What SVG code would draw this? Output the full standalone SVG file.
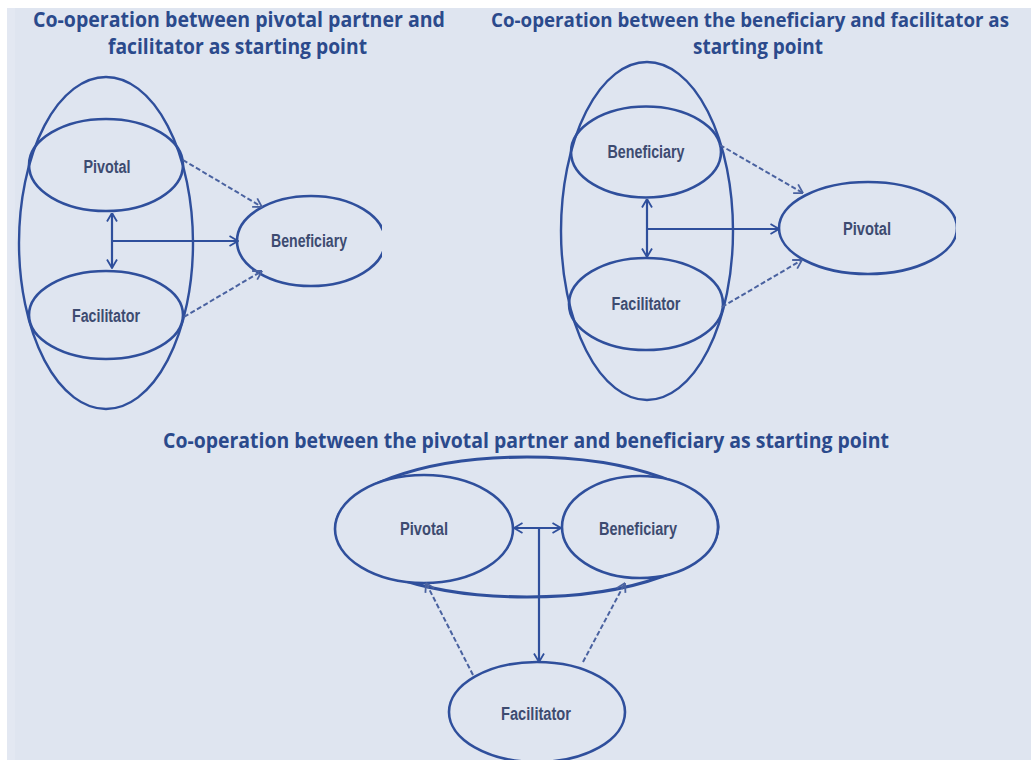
<svg xmlns="http://www.w3.org/2000/svg" width="1031" height="760" viewBox="0 0 1031 760">
  <defs>
    <style>
      .bg { fill: #dfe5f0; }
      .node { fill: none; stroke: #2f4f9c; stroke-width: 2.6; }
      .filled { fill: #dfe5f0; }
      .outer { fill: none; stroke: #2f4f9c; stroke-width: 2.4; }
      .title { font-family: "Open Sans", "Noto Sans", sans-serif; font-weight: 700; font-size: 21px; fill: #2b4a8c; text-anchor: middle; }
      .label { font-family: "Liberation Sans", Arial, sans-serif; font-weight: 700; font-size: 18px; fill: #3d4b70; text-anchor: middle; }
      .solid { fill: none; stroke: #2f4f9c; stroke-width: 2.2; }
      .dash { fill: none; stroke: #4a62a0; stroke-width: 2; stroke-dasharray: 5 2.5; }
    </style>
    <marker id="arr" viewBox="0 0 10 12" refX="9.5" refY="6" markerWidth="10" markerHeight="12" markerUnits="userSpaceOnUse" orient="auto-start-reverse">
      <path d="M1,1 L9.5,6 L1,11" fill="none" stroke="#2f4f9c" stroke-width="1.8"/>
    </marker>
    <marker id="arrd" viewBox="0 0 10 12" refX="9.5" refY="6" markerWidth="10" markerHeight="12" markerUnits="userSpaceOnUse" orient="auto">
      <path d="M1,1 L9.5,6 L1,11" fill="none" stroke="#4a62a0" stroke-width="1.8"/>
    </marker>
    <clipPath id="clip1"><rect x="0" y="0" width="382" height="760"/></clipPath>
    <clipPath id="clip2"><rect x="0" y="0" width="956" height="760"/></clipPath>
  </defs>

  <rect x="0" y="0" width="1031" height="760" fill="#ffffff"/>
  <rect class="bg" x="7" y="8" width="1024" height="752"/>
  <rect x="7" y="8" width="8" height="752" fill="#e3e8f2"/>

  <!-- Titles -->
  <g id="titles">
    <text class="title" x="239" y="27" textLength="412" lengthAdjust="spacingAndGlyphs">Co-operation between pivotal partner and</text>
    <text class="title" x="237.5" y="54" textLength="259" lengthAdjust="spacingAndGlyphs">facilitator as starting point</text>
    <text class="title" x="750" y="27" style="font-size:19px" textLength="518" lengthAdjust="spacingAndGlyphs">Co-operation between the beneficiary and facilitator as</text>
    <text class="title" x="758" y="54" textLength="130" lengthAdjust="spacingAndGlyphs">starting point</text>
    <text class="title" x="526" y="448" textLength="726" lengthAdjust="spacingAndGlyphs">Co-operation between the pivotal partner and beneficiary as starting point</text>
  </g>

  <!-- Panel 1 -->
  <g id="p1-group"><ellipse class="outer" cx="106" cy="243" rx="87" ry="166"/></g>
  <g id="p1-pivotal">
    <ellipse class="node" cx="106" cy="165" rx="77" ry="46"/>
    <text class="label" x="107" y="173" textLength="47" lengthAdjust="spacingAndGlyphs">Pivotal</text>
  </g>
  <g id="p1-facilitator">
    <ellipse class="node" cx="106" cy="315" rx="77" ry="44"/>
    <text class="label" x="106" y="322" textLength="68" lengthAdjust="spacingAndGlyphs">Facilitator</text>
  </g>
  <g id="p1-beneficiary">
    <ellipse class="node" cx="311" cy="241" rx="74" ry="45" clip-path="url(#clip1)"/>
    <text class="label" x="309" y="247" textLength="76" lengthAdjust="spacingAndGlyphs">Beneficiary</text>
  </g>

  <!-- Panel 2 -->
  <g id="p2-group"><ellipse class="outer" cx="647" cy="231" rx="86" ry="169"/></g>
  <g id="p2-beneficiary">
    <ellipse class="node" cx="646" cy="152" rx="75" ry="45.5"/>
    <text class="label" x="646" y="158" textLength="77" lengthAdjust="spacingAndGlyphs">Beneficiary</text>
  </g>
  <g id="p2-facilitator">
    <ellipse class="node" cx="646" cy="304" rx="77" ry="46"/>
    <text class="label" x="646" y="310" textLength="69" lengthAdjust="spacingAndGlyphs">Facilitator</text>
  </g>
  <g id="p2-pivotal">
    <ellipse class="node" cx="868" cy="228" rx="89" ry="46" clip-path="url(#clip2)"/>
    <text class="label" x="867" y="235" textLength="48" lengthAdjust="spacingAndGlyphs">Pivotal</text>
  </g>

  <!-- Panel 3 -->
  <g id="p3-group"><ellipse class="outer" cx="527" cy="527" rx="191" ry="70" style="stroke-width:3.2"/></g>
  <g id="p3-pivotal">
    <ellipse class="node filled" cx="424" cy="529" rx="89" ry="54"/>
    <text class="label" x="424" y="535" textLength="48" lengthAdjust="spacingAndGlyphs">Pivotal</text>
  </g>
  <g id="p3-beneficiary">
    <ellipse class="node filled" cx="640" cy="527" rx="78" ry="51"/>
    <text class="label" x="638" y="535" textLength="78" lengthAdjust="spacingAndGlyphs">Beneficiary</text>
  </g>
  <g id="p3-facilitator">
    <ellipse class="node" cx="537" cy="712" rx="88" ry="50"/>
    <text class="label" x="536" y="720" textLength="70" lengthAdjust="spacingAndGlyphs">Facilitator</text>
  </g>

  <!-- Connectors -->
  <g id="connectors">
    <!-- panel 1 -->
    <line class="solid" x1="112" y1="213" x2="112" y2="268" marker-start="url(#arr)" marker-end="url(#arr)"/>
    <line class="solid" x1="112" y1="241" x2="238" y2="241" marker-end="url(#arr)"/>
    <line class="dash" x1="183" y1="160" x2="262" y2="207" marker-end="url(#arrd)"/>
    <line class="dash" x1="184" y1="317" x2="262" y2="271" marker-end="url(#arrd)"/>
    <!-- panel 2 -->
    <line class="solid" x1="647" y1="199" x2="647" y2="257" marker-start="url(#arr)" marker-end="url(#arr)"/>
    <line class="solid" x1="647" y1="229" x2="779" y2="229" marker-end="url(#arr)"/>
    <line class="dash" x1="720" y1="145" x2="803" y2="193" marker-end="url(#arrd)"/>
    <line class="dash" x1="722" y1="307" x2="802" y2="260" marker-end="url(#arrd)"/>
    <!-- panel 3 -->
    <line class="solid" x1="514" y1="528" x2="561" y2="528" marker-start="url(#arr)" marker-end="url(#arr)"/>
    <line class="solid" x1="539" y1="528" x2="539" y2="662" marker-end="url(#arr)"/>
    <line class="dash" x1="473" y1="675" x2="426" y2="583" marker-end="url(#arrd)"/>
    <line class="dash" x1="583" y1="662" x2="625" y2="583" marker-end="url(#arrd)"/>
  </g>
</svg>
